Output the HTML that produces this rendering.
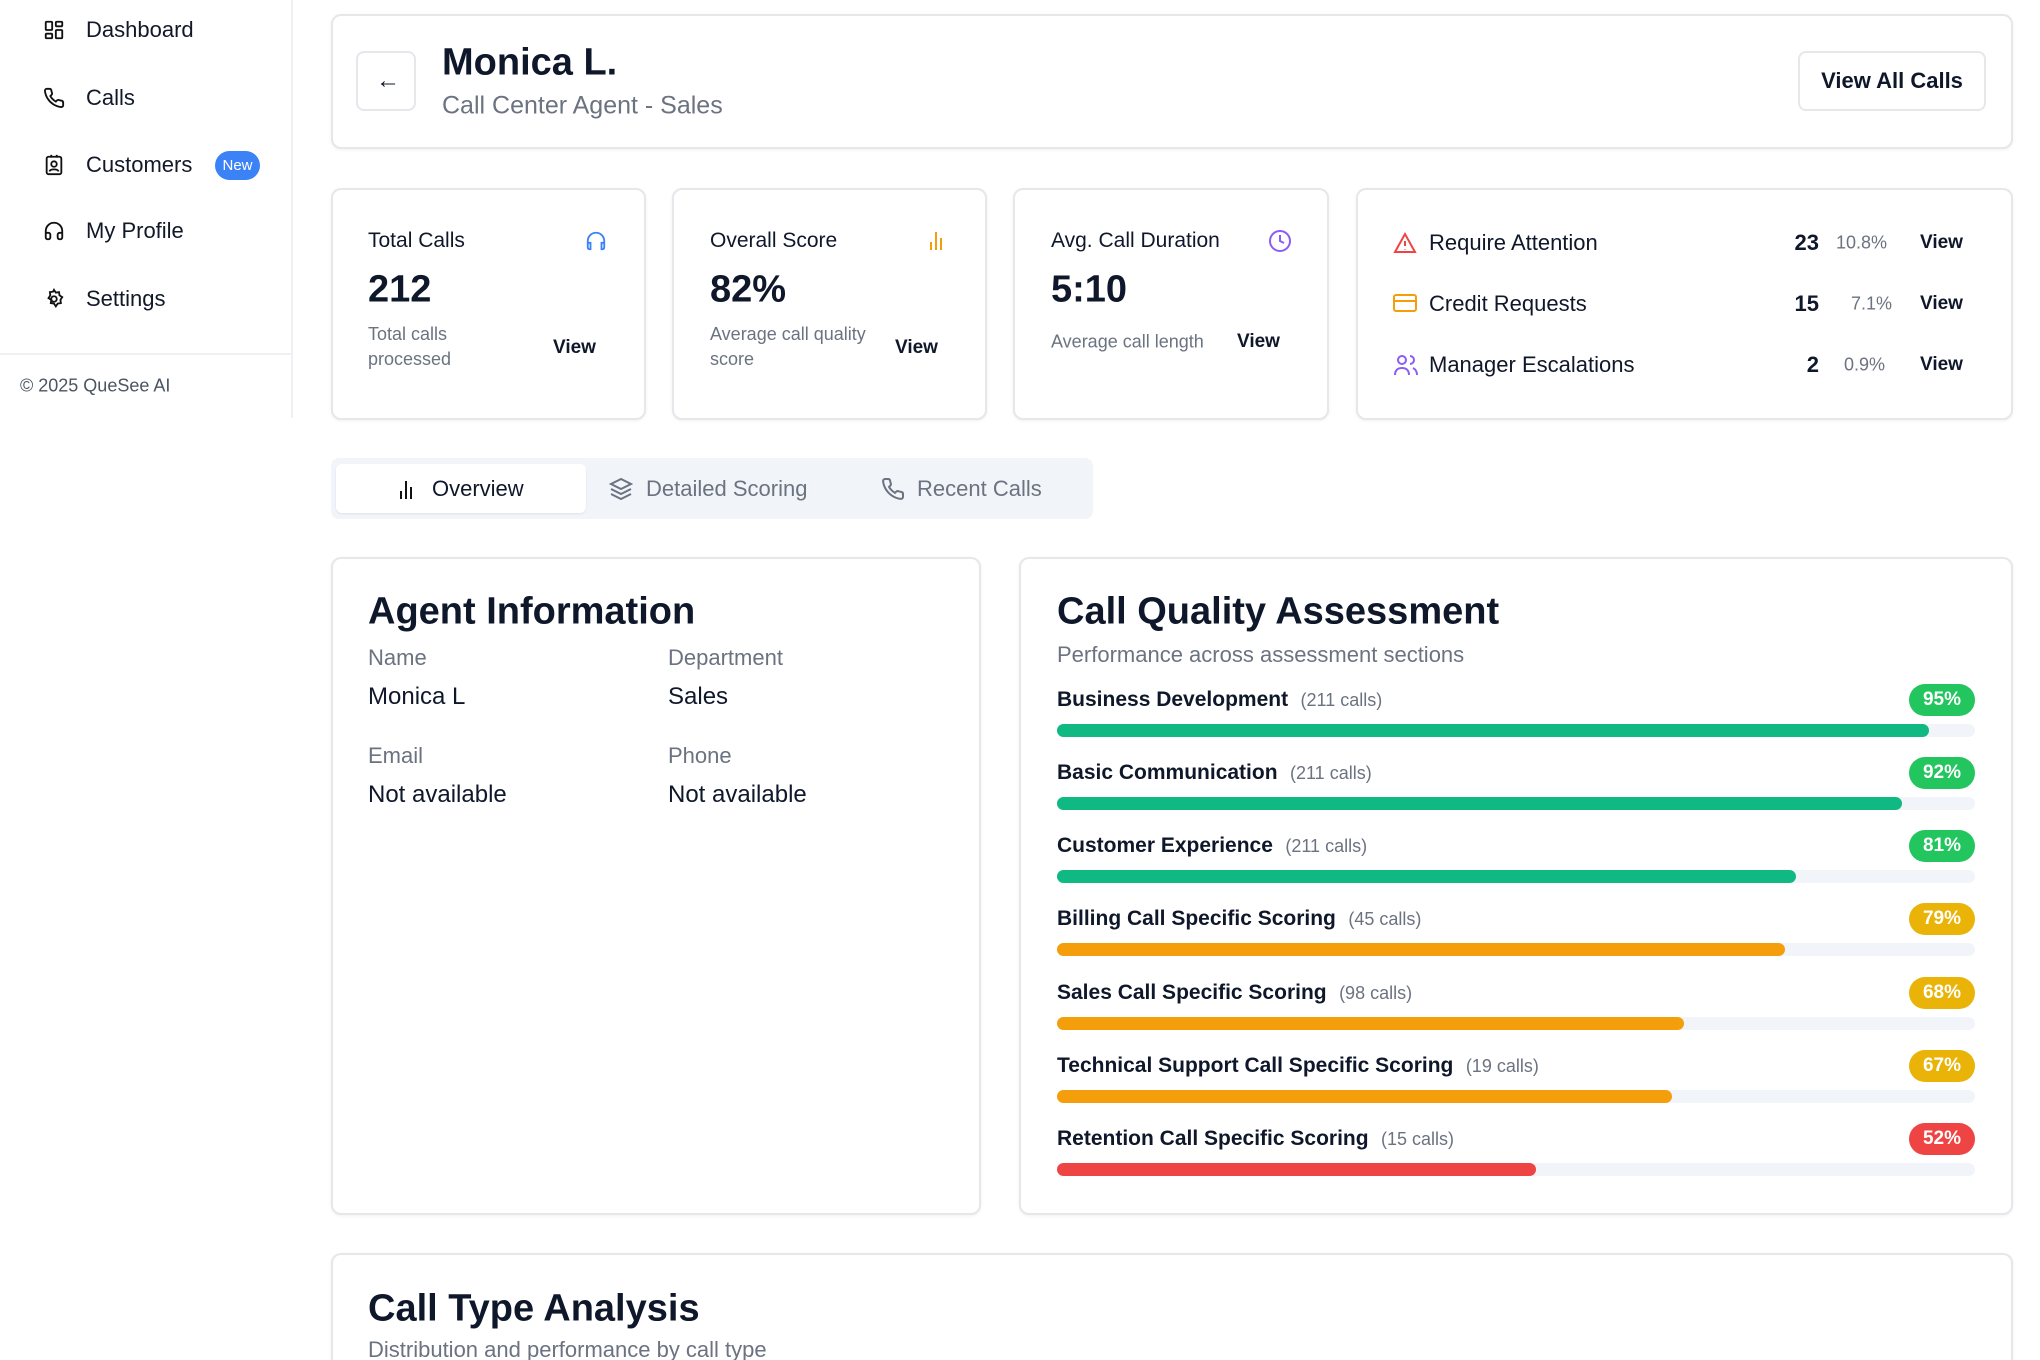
<!DOCTYPE html>
<html style="width:2040px;height:1360px;overflow:hidden"><head><meta charset="utf-8"><style>
*{box-sizing:border-box;margin:0;padding:0}
body{width:2040px;height:1360px;overflow:hidden;background:#fff;font-family:"Liberation Sans",sans-serif;color:#0f172a;position:relative}
.a{position:absolute}
.card{position:absolute;background:#fff;border:2px solid #e5e7eb;border-radius:10px;box-shadow:0 1px 3px rgba(0,0,0,.06)}
.nav{position:absolute;left:86px;font-size:22px;font-weight:500;color:#111827;transform:translateY(-50%)}
.ic{position:absolute;left:43px;width:22px;height:22px;transform:translateY(-50%)}
.t{position:absolute;transform:translateY(-50%);white-space:nowrap}
.row .lbl{font-size:21px;font-weight:600}
.bar{position:absolute;left:1057px;width:918px;height:13px;border-radius:7px;background:#f1f5f9}
.bar i{display:block;height:100%;border-radius:7px}
.badge{position:absolute;right:65px;height:32px;border-radius:16px;color:#fff;font-weight:700;font-size:19px;line-height:32px;padding:0 14px;transform:translateY(-50%)}
</style></head><body>
<!-- sidebar -->
<div class="a" style="left:291px;top:0;width:2px;height:418px;background:#eef0f3"></div>
<div class="a" style="left:0;top:353px;width:292px;height:2px;background:#eef0f3"></div>
<svg class="ic" style="top:30px" viewBox="0 0 24 24" fill="none" stroke="#111" stroke-width="2"><rect x="3" y="3" width="7" height="9" rx="1"/><rect x="14" y="3" width="7" height="5" rx="1"/><rect x="14" y="12" width="7" height="9" rx="1"/><rect x="3" y="16" width="7" height="5" rx="1"/></svg>
<div class="nav" style="top:30px">Dashboard</div>
<svg class="ic" style="top:98px" viewBox="0 0 24 24" fill="none" stroke="#111" stroke-width="2"><path d="M22 16.9v3a2 2 0 0 1-2.2 2 19.8 19.8 0 0 1-8.6-3.1 19.5 19.5 0 0 1-6-6A19.8 19.8 0 0 1 2.1 4.2 2 2 0 0 1 4.1 2h3a2 2 0 0 1 2 1.7c.1 1 .4 1.9.7 2.8a2 2 0 0 1-.5 2.1L8 9.9a16 16 0 0 0 6 6l1.300-1.3a2 2 0 0 1 2.1-.4c.9.3 1.8.6 2.8.7a2 2 0 0 1 1.7 2z"/></svg>
<div class="nav" style="top:98px">Calls</div>
<svg class="ic" style="top:165px" viewBox="0 0 24 24" fill="none" stroke="#111" stroke-width="2"><rect x="4" y="3" width="16" height="19" rx="2"/><circle cx="12" cy="11" r="3"/><path d="M7 19c1-3 9-3 10 0M9 1v3M15 1v3"/></svg>
<div class="nav" style="top:165px">Customers</div>
<div class="a" style="left:215px;top:151px;width:45px;height:29px;border-radius:15px;background:#3b82f6;color:#fff;font-size:15px;line-height:29px;text-align:center">New</div>
<svg class="ic" style="top:231px" viewBox="0 0 24 24" fill="none" stroke="#111" stroke-width="2"><path d="M3 14h3a2 2 0 0 1 2 2v3a2 2 0 0 1-2 2H5a2 2 0 0 1-2-2v-7a9 9 0 0 1 18 0v7a2 2 0 0 1-2 2h-1a2 2 0 0 1-2-2v-3a2 2 0 0 1 2-2h3"/></svg>
<div class="nav" style="top:231px">My Profile</div>
<svg class="ic" style="top:299px" viewBox="0 0 24 24" fill="none" stroke="#111" stroke-width="2"><circle cx="12" cy="12" r="3"/><path d="M12 2l2 3 3.5-.5.5 3.5 3 2-2 3 .5 3.5-3.5.5-2 3-2-3-3.5-.5.5-3.5-3-2 2-3-.5-3.5 3.5-.5z"/></svg>
<div class="nav" style="top:299px">Settings</div>
<div class="t" style="left:20px;top:386px;font-size:18px;color:#4b5563">© 2025 QueSee AI</div>

<!-- header -->
<div class="card" style="left:331px;top:14px;width:1682px;height:135px"></div>
<div class="card" style="left:356px;top:51px;width:60px;height:60px;border-radius:8px;box-shadow:none"></div>
<div class="t" style="left:376px;top:81px;font-size:24px">←</div>
<div class="t" style="left:442px;top:63px;font-size:38px;font-weight:700">Monica L.</div>
<div class="t" style="left:442px;top:106px;font-size:25px;color:#6b7280">Call Center Agent - Sales</div>
<div class="card" style="left:1798px;top:51px;width:188px;height:60px;border-radius:8px;box-shadow:none"></div>
<div class="t" style="left:1798px;width:188px;text-align:center;top:81px;font-size:22px;font-weight:600">View All Calls</div>

<!-- stat cards -->
<div class="card" style="left:331px;top:188px;width:315px;height:232px"></div>
<div class="t" style="left:368px;top:241px;font-size:21px;font-weight:500">Total Calls</div>
<svg class="a" style="left:585px;top:229px;width:22px;height:24px" viewBox="0 0 24 24" fill="none" stroke="#3b82f6" stroke-width="2"><path d="M3 14h3v7H5a2 2 0 0 1-2-2v-7a9 9 0 0 1 18 0v7a2 2 0 0 1-2 2h-1v-7h3"/></svg>
<div class="t" style="left:368px;top:290px;font-size:38px;font-weight:700">212</div>
<div class="a" style="left:368px;top:322px;font-size:18px;line-height:25px;color:#6b7280">Total calls<br>processed</div>
<div class="t" style="left:553px;top:348px;font-size:19px;font-weight:600">View</div>

<div class="card" style="left:672px;top:188px;width:315px;height:232px"></div>
<div class="t" style="left:710px;top:241px;font-size:21px;font-weight:500">Overall Score</div>
<svg class="a" style="left:928px;top:230px;width:16px;height:20px" viewBox="0 0 16 20" stroke="#f59e0b" stroke-width="2"><path d="M3 20v-8M8 20V2M13 20v-12"/></svg>
<div class="t" style="left:710px;top:290px;font-size:38px;font-weight:700">82%</div>
<div class="a" style="left:710px;top:322px;font-size:18px;line-height:25px;color:#6b7280">Average call quality<br>score</div>
<div class="t" style="left:895px;top:348px;font-size:19px;font-weight:600">View</div>

<div class="card" style="left:1013px;top:188px;width:316px;height:232px"></div>
<div class="t" style="left:1051px;top:241px;font-size:21px;font-weight:500">Avg. Call Duration</div>
<svg class="a" style="left:1268px;top:229px;width:24px;height:24px" viewBox="0 0 24 24" fill="none" stroke="#8b5cf6" stroke-width="2"><circle cx="12" cy="12" r="10"/><path d="M12 6v6l4 2"/></svg>
<div class="t" style="left:1051px;top:290px;font-size:38px;font-weight:700">5:10</div>
<div class="t" style="left:1051px;top:342px;font-size:18px;color:#6b7280">Average call length</div>
<div class="t" style="left:1237px;top:342px;font-size:19px;font-weight:600">View</div>

<div class="card" style="left:1356px;top:188px;width:657px;height:232px"></div>
<svg class="a" style="left:1393px;top:231px;width:24px;height:24px" viewBox="0 0 24 24" fill="none" stroke="#ef4444" stroke-width="2"><path d="M12 3L2 21h20z M12 10v5 M12 18v.5"/></svg>
<div class="t" style="left:1429px;top:243px;font-size:22px;font-weight:500">Require Attention</div>
<div class="t" style="left:1760px;width:59px;text-align:right;top:243px;font-size:22px;font-weight:700">23</div>
<div class="t" style="left:1836px;top:243px;font-size:18px;color:#6b7280">10.8%</div>
<div class="t" style="left:1920px;top:243px;font-size:19px;font-weight:600">View</div>
<svg class="a" style="left:1393px;top:292px;width:24px;height:22px" viewBox="0 0 24 22" fill="none" stroke="#f59e0b" stroke-width="2"><rect x="1" y="3" width="22" height="16" rx="2"/><path d="M1 9h22"/></svg>
<div class="t" style="left:1429px;top:304px;font-size:22px;font-weight:500">Credit Requests</div>
<div class="t" style="left:1760px;width:59px;text-align:right;top:304px;font-size:22px;font-weight:700">15</div>
<div class="t" style="left:1851px;top:304px;font-size:18px;color:#6b7280">7.1%</div>
<div class="t" style="left:1920px;top:304px;font-size:19px;font-weight:600">View</div>
<svg class="a" style="left:1393px;top:353px;width:26px;height:24px" viewBox="0 0 26 24" fill="none" stroke="#8b5cf6" stroke-width="2"><circle cx="9" cy="7" r="4"/><path d="M2 22c0-5 3-7 7-7s7 2 7 7M17 3a4 4 0 0 1 0 8M20 15c2 1 4 3 4 7"/></svg>
<div class="t" style="left:1429px;top:365px;font-size:22px;font-weight:500">Manager Escalations</div>
<div class="t" style="left:1760px;width:59px;text-align:right;top:365px;font-size:22px;font-weight:700">2</div>
<div class="t" style="left:1844px;top:365px;font-size:18px;color:#6b7280">0.9%</div>
<div class="t" style="left:1920px;top:365px;font-size:19px;font-weight:600">View</div>

<!-- tabs -->
<div class="a" style="left:331px;top:458px;width:762px;height:61px;background:#f1f5f9;border-radius:8px"></div>
<div class="a" style="left:336px;top:464px;width:250px;height:49px;background:#fff;border-radius:6px;box-shadow:0 1px 2px rgba(0,0,0,.08)"></div>
<svg class="a" style="left:398px;top:479px;width:16px;height:20px" viewBox="0 0 16 20" stroke="#111" stroke-width="2"><path d="M3 20v-8M8 20V2M13 20v-12"/></svg>
<div class="t" style="left:432px;top:489px;font-size:22px;font-weight:500">Overview</div>
<svg class="a" style="left:609px;top:477px;width:24px;height:24px" viewBox="0 0 24 24" fill="none" stroke="#6b7280" stroke-width="2"><path d="M12 2L2 7l10 5 10-5z M2 12l10 5 10-5 M2 17l10 5 10-5"/></svg>
<div class="t" style="left:646px;top:489px;font-size:22px;font-weight:500;color:#6b7280">Detailed Scoring</div>
<svg class="a" style="left:881px;top:477px;width:24px;height:24px" viewBox="0 0 24 24" fill="none" stroke="#6b7280" stroke-width="2"><path d="M22 16.9v3a2 2 0 0 1-2.2 2 19.8 19.8 0 0 1-8.6-3.1 19.5 19.5 0 0 1-6-6A19.8 19.8 0 0 1 2.1 4.2 2 2 0 0 1 4.1 2h3a2 2 0 0 1 2 1.7c.1 1 .4 1.9.7 2.8a2 2 0 0 1-.5 2.1L8 9.9a16 16 0 0 0 6 6l1.3-1.3a2 2 0 0 1 2.1-.4c.9.3 1.8.6 2.8.7a2 2 0 0 1 1.7 2z"/></svg>
<div class="t" style="left:917px;top:489px;font-size:22px;font-weight:500;color:#6b7280">Recent Calls</div>

<!-- agent info -->
<div class="card" style="left:331px;top:557px;width:650px;height:658px"></div>
<div class="t" style="left:368px;top:612px;font-size:38px;font-weight:700">Agent Information</div>
<div class="t" style="left:368px;top:658px;font-size:22px;color:#6b7280">Name</div>
<div class="t" style="left:368px;top:697px;font-size:24px;font-weight:500">Monica L</div>
<div class="t" style="left:668px;top:658px;font-size:22px;color:#6b7280">Department</div>
<div class="t" style="left:668px;top:697px;font-size:24px;font-weight:500">Sales</div>
<div class="t" style="left:368px;top:756px;font-size:22px;color:#6b7280">Email</div>
<div class="t" style="left:368px;top:795px;font-size:24px;font-weight:500">Not available</div>
<div class="t" style="left:668px;top:756px;font-size:22px;color:#6b7280">Phone</div>
<div class="t" style="left:668px;top:795px;font-size:24px;font-weight:500">Not available</div>

<!-- CQA -->
<div class="card" style="left:1019px;top:557px;width:994px;height:658px"></div>
<div class="t" style="left:1057px;top:612px;font-size:38px;font-weight:700">Call Quality Assessment</div>
<div class="t" style="left:1057px;top:655px;font-size:22px;color:#6b7280">Performance across assessment sections</div>

<div class="t row" style="left:1057px;top:700px"><span class="lbl">Business Development</span> <span style="font-size:18px;color:#6b7280;margin-left:8px">(211 calls)</span></div>
<div class="badge" style="top:700px;background:#22c55e">95%</div>
<div class="bar" style="top:724px"><i style="width:95%;background:#10b981"></i></div>

<div class="t row" style="left:1057px;top:773px"><span class="lbl">Basic Communication</span> <span style="font-size:18px;color:#6b7280;margin-left:8px">(211 calls)</span></div>
<div class="badge" style="top:773px;background:#22c55e">92%</div>
<div class="bar" style="top:797px"><i style="width:92%;background:#10b981"></i></div>

<div class="t row" style="left:1057px;top:846px"><span class="lbl">Customer Experience</span> <span style="font-size:18px;color:#6b7280;margin-left:8px">(211 calls)</span></div>
<div class="badge" style="top:846px;background:#22c55e">81%</div>
<div class="bar" style="top:870px"><i style="width:80.5%;background:#10b981"></i></div>

<div class="t row" style="left:1057px;top:919px"><span class="lbl">Billing Call Specific Scoring</span> <span style="font-size:18px;color:#6b7280;margin-left:8px">(45 calls)</span></div>
<div class="badge" style="top:919px;background:#eab308">79%</div>
<div class="bar" style="top:943px"><i style="width:79.3%;background:#f59e0b"></i></div>

<div class="t row" style="left:1057px;top:993px"><span class="lbl">Sales Call Specific Scoring</span> <span style="font-size:18px;color:#6b7280;margin-left:8px">(98 calls)</span></div>
<div class="badge" style="top:993px;background:#eab308">68%</div>
<div class="bar" style="top:1017px"><i style="width:68.3%;background:#f59e0b"></i></div>

<div class="t row" style="left:1057px;top:1066px"><span class="lbl">Technical Support Call Specific Scoring</span> <span style="font-size:18px;color:#6b7280;margin-left:8px">(19 calls)</span></div>
<div class="badge" style="top:1066px;background:#eab308">67%</div>
<div class="bar" style="top:1090px"><i style="width:67%;background:#f59e0b"></i></div>

<div class="t row" style="left:1057px;top:1139px"><span class="lbl">Retention Call Specific Scoring</span> <span style="font-size:18px;color:#6b7280;margin-left:8px">(15 calls)</span></div>
<div class="badge" style="top:1139px;background:#ef4444">52%</div>
<div class="bar" style="top:1163px"><i style="width:52.2%;background:#ef4444"></i></div>

<!-- call type -->
<div class="card" style="left:331px;top:1253px;width:1682px;height:120px;border-bottom:none;border-radius:10px 10px 0 0"></div>
<div class="t" style="left:368px;top:1309px;font-size:38px;font-weight:700">Call Type Analysis</div>
<div class="t" style="left:368px;top:1350px;font-size:22px;color:#6b7280">Distribution and performance by call type</div>
</body></html>
